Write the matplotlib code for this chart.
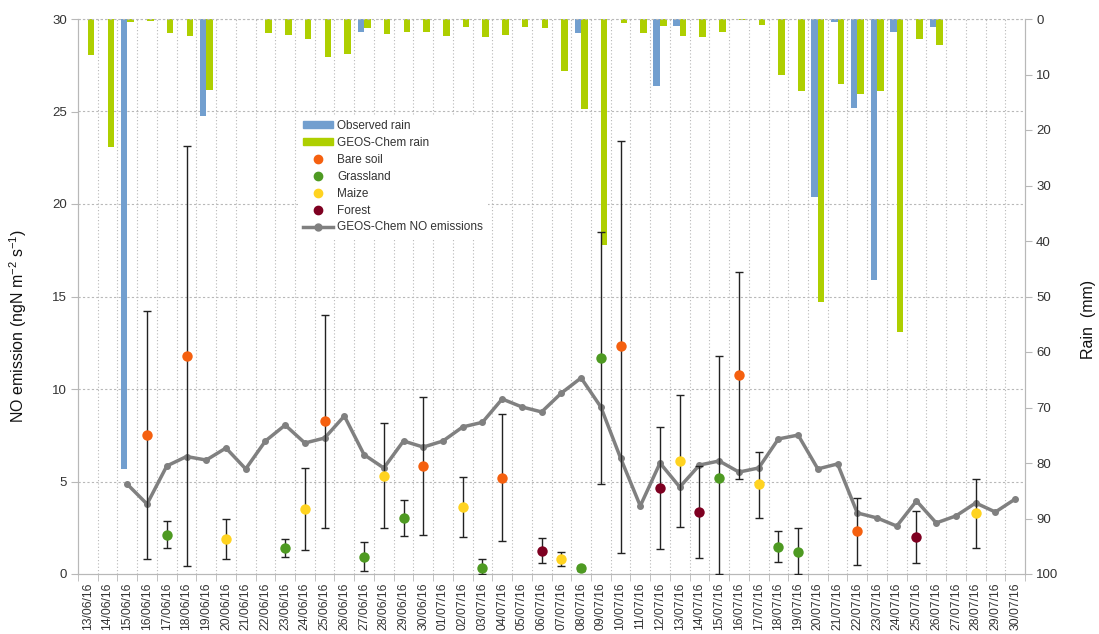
import numpy as np
import matplotlib
matplotlib.use('Agg')
import matplotlib.pyplot as plt
from matplotlib.patches import Patch
from matplotlib.lines import Line2D

plt.rcParams['font.family'] = ['Liberation Sans', 'DejaVu Sans']
plt.rcParams['mathtext.fontset'] = 'custom'
plt.rcParams['mathtext.rm'] = 'Liberation Sans'
plt.rcParams['mathtext.it'] = 'Liberation Sans'

# dates 13/06/16 .. 30/07/16
dates = [f'{d:02d}/06/16' for d in range(13, 31)] + [f'{d:02d}/07/16' for d in range(1, 31)]

# rain (mm), one value per day
obs_rain = [0, 0, 81, 0, 0, 0, 17.5, 0, 0, 0, 0, 0, 0, 0, 2.4, 0,
            0, 0, 0, 0, 0, 0, 0, 0, 0, 2.6, 0, 0, 0, 12, 1.2, 0,
            0, 0, 0, 0, 0, 32, 0.5, 16, 47, 2.4, 0, 1.5, 0, 0, 0, 0]
geos_rain = [6.5, 23, 0.5, 0.3, 2.5, 3.0, 12.8, 0, 0, 2.5, 2.8, 3.6, 6.9, 6.3, 1.7, 2.7,
             2.4, 2.4, 3.0, 1.4, 3.2, 2.9, 1.5, 1.7, 9.4, 16.3, 40.7, 0.8, 2.6, 1.3, 3.0, 3.3,
             2.3, 0.2, 1.0, 10.1, 13.0, 51, 11.7, 13.6, 13.0, 56.4, 3.6, 4.7, 0, 0, 0, 0]

# GEOS-Chem NO emissions (ngN m-2 s-1)
geos_no = [np.nan, np.nan, 4.85, 3.78, 5.84, 6.35, 6.16, 6.81, 5.68, 7.19, 8.05, 7.08,
           7.35, 8.54, 6.45, 5.73, 7.19, 6.86, 7.19, 7.95, 8.2, 9.46, 9.03, 8.76,
           9.78, 10.6, 9.03, 6.27, 3.68, 6.0, 4.7, 5.89, 6.11, 5.51, 5.73, 7.3,
           7.51, 5.68, 5.95, 3.3, 3.03, 2.59, 3.95, 2.76, 3.14, 3.84, 3.35, 4.05]

# observations: day index, value, lower, upper
bare_day = [3, 5, 12, 17, 21, 27, 33, 39]
bare_val = [7.51, 11.8, 8.27, 5.84, 5.19, 12.3, 10.76, 2.32]
bare_lo = [0.81, 0.43, 2.49, 2.11, 1.78, 1.14, 5.14, 0.49]
bare_hi = [14.2, 23.15, 14.0, 9.57, 8.65, 23.4, 16.3, 4.1]

grass_day = [4, 10, 14, 16, 20, 25, 26, 32, 35, 36]
grass_val = [2.11, 1.41, 0.92, 3.03, 0.32, 0.3, 11.7, 5.19, 1.46, 1.19]
grass_lo = [1.41, 0.92, 0.16, 2.05, 0.0, 0.15, 4.86, 0.0, 0.65, 0.0]
grass_hi = [2.86, 1.89, 1.73, 4.0, 0.81, 0.45, 18.5, 11.8, 2.32, 2.49]

maize_day = [7, 11, 15, 19, 24, 30, 34, 45]
maize_val = [1.89, 3.51, 5.3, 3.62, 0.81, 6.11, 4.86, 3.3]
maize_lo = [0.81, 1.3, 2.49, 2.0, 0.43, 2.54, 3.03, 1.41]
maize_hi = [2.97, 5.73, 8.16, 5.24, 1.19, 9.68, 6.59, 5.14]

forest_day = [23, 29, 31, 42]
forest_val = [1.24, 4.65, 3.35, 2.0]
forest_lo = [0.59, 1.35, 0.86, 0.59]
forest_hi = [1.95, 7.95, 5.84, 3.41]

c_obs = '#729fcf'
c_geos = '#aecf00'
c_bare = '#f5600f'
c_grass = '#4e9a22'
c_maize = '#ffd320'
c_forest = '#7e0021'
c_line = '#808080'
grid_c = '#b8b8b8'
txt_c = '#333333'

x = np.arange(len(dates))

fig = plt.figure(figsize=(10.99, 6.34), dpi=100)
ax = fig.add_axes([78/1099, 60/634, 947/1099, 555/634])
ax2 = ax.twinx()
ax.set_zorder(2)
ax2.set_zorder(1)
ax.patch.set_visible(False)

# rain bars hanging from top
ax2.bar(x - 0.165, obs_rain, width=0.33, color=c_obs, zorder=3)
ax2.bar(x + 0.165, geos_rain, width=0.33, color=c_geos, zorder=3)
ax2.set_ylim(100, 0)
ax2.set_yticks(range(0, 101, 10))

# grid on the back axes
for b in np.arange(0.5, len(dates) - 1, 1.0):
    ax2.axvline(b, color=grid_c, lw=0.8, ls=(0, (1, 2)), zorder=1)
for v in range(5, 31, 5):
    ax2.axhline((30 - v) / 30 * 100, color=grid_c, lw=0.8, ls=(0, (2, 2)), zorder=1)

# model NO emissions
ax.plot(x, geos_no, color=c_line, lw=2.5, marker='o', ms=4, zorder=4)

def obs(days, val, lo, hi, col):
    val = np.array(val); lo = np.array(lo); hi = np.array(hi)
    ax.errorbar(days, val, yerr=[val - lo, hi - val], fmt='none', ecolor='#222222',
                elinewidth=1, capsize=3, capthick=1, zorder=5)
    ax.plot(days, val, 'o', color=col, ms=7.5, zorder=6, mec='none')

obs(bare_day, bare_val, bare_lo, bare_hi, c_bare)
obs(grass_day, grass_val, grass_lo, grass_hi, c_grass)
obs(maize_day, maize_val, maize_lo, maize_hi, c_maize)
obs(forest_day, forest_val, forest_lo, forest_hi, c_forest)

ax.set_xlim(-0.5, len(dates) - 0.5)
ax.set_ylim(0, 30)
ax.set_yticks(range(0, 31, 5))
ax.set_xticks(x)
ax.set_xticklabels(dates, rotation=90)
ax.set_xticks(np.arange(-0.5, len(dates), 1.0), minor=True)
ax.tick_params(axis='x', which='major', length=0, pad=6, labelsize=8.8, labelcolor=txt_c)
ax.tick_params(axis='x', which='minor', length=5, color=grid_c)
ax.tick_params(axis='y', length=5, color=grid_c, labelsize=9.5, labelcolor=txt_c, pad=3)
ax2.tick_params(axis='y', length=5, color=grid_c, labelsize=9.5, labelcolor=txt_c, pad=3)

for a in (ax, ax2):
    a.spines['top'].set_visible(False)
    for s in ('left', 'right', 'bottom'):
        a.spines[s].set_color(grid_c)
ax.axhline(30, color=grid_c, lw=0.8, ls=(0, (2, 2)), clip_on=False)

fig.text(18/1099, 1 - 326/634, r'NO emission (ngN m$^{-2}$ s$^{-1}$)', rotation=90,
         ha='center', va='center', fontsize=11.5, color='#111111')
fig.text(1088/1099, 1 - 319/634, 'Rain  (mm)', rotation=90,
         ha='center', va='center', fontsize=11.5, color='#111111')

handles = [Patch(color=c_obs), Patch(color=c_geos),
           Line2D([], [], ls='none', marker='o', color=c_bare, ms=6),
           Line2D([], [], ls='none', marker='o', color=c_grass, ms=6),
           Line2D([], [], ls='none', marker='o', color=c_maize, ms=6),
           Line2D([], [], ls='none', marker='o', color=c_forest, ms=6),
           Line2D([], [], color=c_line, lw=2.5, marker='o', ms=5)]
labels = ['Observed rain', 'GEOS-Chem rain', 'Bare soil', 'Grassland', 'Maize',
          'Forest', 'GEOS-Chem NO emissions']
leg = ax.legend(handles, labels, loc='upper left', bbox_to_anchor=(298/1099, 1 - 115/634),
                bbox_transform=fig.transFigure, fontsize=8.5, frameon=True, fancybox=False,
                facecolor='white', edgecolor='none', framealpha=1, borderpad=0.4,
                borderaxespad=0, handlelength=2.6, handleheight=0.5, handletextpad=0.3,
                labelspacing=0.42, numpoints=1)
for t in leg.get_texts():
    t.set_color(txt_c)

fig.savefig('out.png', dpi=100)
